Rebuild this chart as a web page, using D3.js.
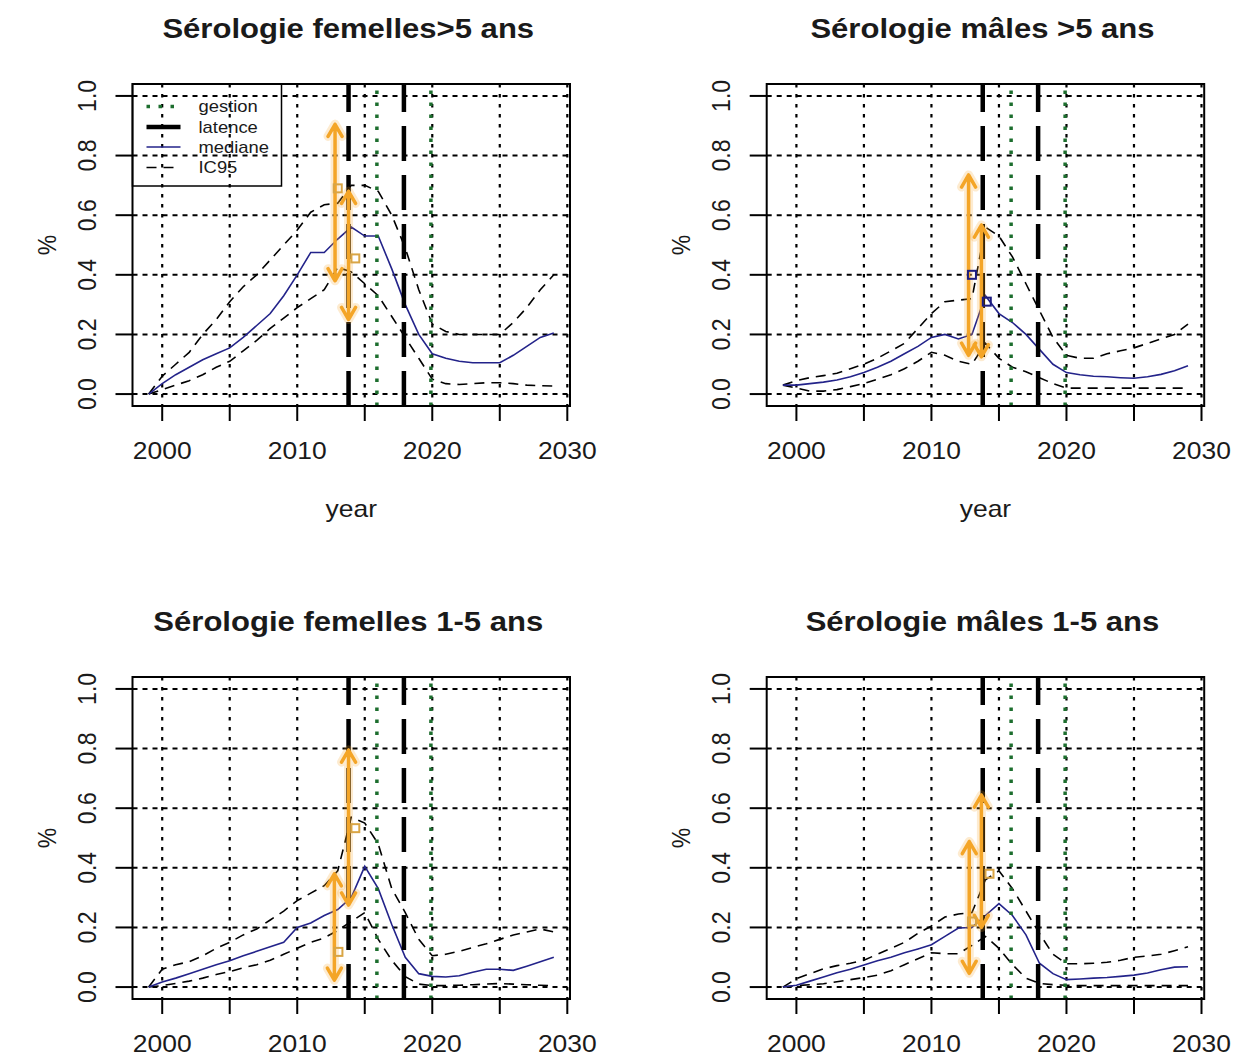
<!DOCTYPE html>
<html>
<head>
<meta charset="utf-8">
<script src="https://cdn.jsdelivr.net/npm/d3@7"></script>
<style>
  body { margin: 0; background: #fff; }
  text { font-family: "Liberation Sans", Arial, sans-serif; fill: #1a1a1a; }
</style>
</head>
<body>
<svg id="chart" width="1238" height="1057"></svg>
<script>
// ---- shared axes / markers ----
const years = d3.range(1999, 2030);           // simulated years 1999..2029
const xTicks = [2000, 2005, 2010, 2015, 2020, 2025, 2030];
const xTickLabels = [2000, 2010, 2020, 2030];
const yTicks = [0, 0.2, 0.4, 0.6, 0.8, 1.0];
const gestionYears = [2015.9, 2019.9];
const latenceYears = [2013.8, 2017.9];
const legendLabels = ["gestion", "latence", "mediane", "IC95"];

const titles = [
  "Sérologie femelles>5 ans",
  "Sérologie mâles >5 ans",
  "Sérologie femelles 1-5 ans",
  "Sérologie mâles 1-5 ans"
];

// ---- femelles > 5 ans ----
const medFemAdult = [0.00,0.035,0.065,0.09,0.115,0.135,0.155,0.19,0.23,0.27,0.33,0.40,0.475,0.475,0.52,0.56,0.53,0.53,0.42,0.30,0.20,0.135,0.12,0.11,0.105,0.105,0.105,0.13,0.16,0.19,0.205];
const upFemAdult  = [0.00,0.06,0.10,0.14,0.20,0.25,0.31,0.36,0.40,0.45,0.50,0.55,0.61,0.635,0.64,0.70,0.70,0.68,0.60,0.49,0.35,0.235,0.21,0.20,0.20,0.20,0.20,0.24,0.29,0.35,0.40];
const loFemAdult  = [0.00,0.015,0.03,0.045,0.065,0.09,0.11,0.145,0.18,0.22,0.255,0.29,0.32,0.35,0.425,0.41,0.37,0.33,0.26,0.19,0.12,0.05,0.035,0.032,0.035,0.038,0.038,0.035,0.03,0.028,0.027];
const obsYearsFemAdult = [2012.8, 2013.8];
const obsLoFemAdult    = [0.38, 0.25];
const obsHiFemAdult    = [0.905, 0.68];
const ptYearsFemAdult  = [2013.0, 2014.3];
const ptValFemAdult    = [0.69, 0.455];

// ---- mâles > 5 ans ----
const medMalAdult = [0.03,0.03,0.035,0.04,0.047,0.058,0.072,0.09,0.11,0.135,0.16,0.19,0.20,0.185,0.20,0.33,0.27,0.24,0.20,0.15,0.10,0.072,0.065,0.06,0.058,0.055,0.053,0.058,0.066,0.078,0.095];
const upMalAdult  = [0.03,0.045,0.055,0.062,0.07,0.085,0.10,0.12,0.145,0.17,0.22,0.27,0.31,0.315,0.32,0.56,0.53,0.46,0.37,0.28,0.19,0.13,0.12,0.12,0.135,0.145,0.155,0.17,0.185,0.20,0.235];
const loMalAdult  = [0.03,0.02,0.01,0.01,0.015,0.025,0.035,0.05,0.065,0.085,0.11,0.14,0.13,0.11,0.10,0.17,0.12,0.09,0.075,0.055,0.035,0.02,0.02,0.02,0.02,0.02,0.02,0.02,0.02,0.02,0.02];
const obsYearsMalAdult = [2012.75, 2013.7];
const obsLoMalAdult    = [0.13, 0.125];
const obsHiMalAdult    = [0.735, 0.567];
const ptYearsMalAdult  = [2013.0, 2014.1];
const ptValMalAdult    = [0.40, 0.31];

// ---- femelles 1-5 ans ----
const medFemYoung = [0.00,0.017,0.03,0.045,0.06,0.075,0.088,0.105,0.12,0.135,0.15,0.20,0.215,0.24,0.26,0.30,0.405,0.33,0.21,0.10,0.045,0.036,0.034,0.038,0.05,0.06,0.06,0.056,0.07,0.085,0.10];
const upFemYoung  = [0.00,0.06,0.075,0.085,0.105,0.13,0.15,0.175,0.195,0.225,0.255,0.29,0.315,0.34,0.39,0.57,0.55,0.48,0.33,0.25,0.16,0.105,0.11,0.12,0.133,0.145,0.16,0.175,0.185,0.195,0.185];
const loFemYoung  = [0.00,0.005,0.012,0.02,0.03,0.042,0.052,0.065,0.075,0.09,0.11,0.13,0.15,0.165,0.19,0.22,0.25,0.16,0.09,0.035,0.01,0.005,0.005,0.006,0.008,0.01,0.012,0.01,0.008,0.006,0.005];
const obsYearsFemYoung = [2013.8, 2012.75];
const obsLoFemYoung    = [0.275, 0.023];
const obsHiFemYoung    = [0.795, 0.38];
const ptYearsFemYoung  = [2014.3, 2013.05];
const ptValFemYoung    = [0.533, 0.118];

// ---- mâles 1-5 ans ----
const medMalYoung = [0.00,0.006,0.02,0.034,0.048,0.06,0.074,0.088,0.10,0.115,0.128,0.142,0.17,0.198,0.20,0.24,0.28,0.24,0.175,0.08,0.045,0.025,0.027,0.03,0.032,0.036,0.04,0.047,0.058,0.067,0.068];
const upMalYoung  = [0.00,0.028,0.045,0.061,0.072,0.08,0.09,0.11,0.13,0.15,0.18,0.205,0.235,0.245,0.25,0.36,0.39,0.33,0.255,0.18,0.11,0.078,0.078,0.08,0.083,0.09,0.10,0.104,0.11,0.122,0.135];
const loMalYoung  = [0.00,0.005,0.008,0.011,0.018,0.025,0.032,0.04,0.055,0.075,0.095,0.115,0.112,0.112,0.14,0.17,0.13,0.075,0.03,0.012,0.008,0.006,0.005,0.005,0.005,0.005,0.005,0.005,0.005,0.005,0.005];
const obsYearsMalYoung = [2013.7, 2012.8];
const obsLoMalYoung    = [0.20, 0.046];
const obsHiMalYoung    = [0.644, 0.488];
const ptYearsMalYoung  = [2014.3, 2013.0];
const ptValMalYoung    = [0.38, 0.22];

// ---- panel configuration ----
const panels = [
  { title: titles[0], med: medFemAdult, up: upFemAdult, lo: loFemAdult,
    obsX: obsYearsFemAdult, obsLo: obsLoFemAdult, obsHi: obsHiFemAdult,
    ptX: ptYearsFemAdult, ptY: ptValFemAdult, ptColor: "#d9a545",
    left: 132.5, top: 84, legend: true, xlab: true },
  { title: titles[1], med: medMalAdult, up: upMalAdult, lo: loMalAdult,
    obsX: obsYearsMalAdult, obsLo: obsLoMalAdult, obsHi: obsHiMalAdult,
    ptX: ptYearsMalAdult, ptY: ptValMalAdult, ptColor: "#1c1c80",
    left: 766.7, top: 84, legend: false, xlab: true },
  { title: titles[2], med: medFemYoung, up: upFemYoung, lo: loFemYoung,
    obsX: obsYearsFemYoung, obsLo: obsLoFemYoung, obsHi: obsHiFemYoung,
    ptX: ptYearsFemYoung, ptY: ptValFemYoung, ptColor: "#d9a545",
    left: 132.5, top: 677, legend: false, xlab: false },
  { title: titles[3], med: medMalYoung, up: upMalYoung, lo: loMalYoung,
    obsX: obsYearsMalYoung, obsLo: obsLoMalYoung, obsHi: obsHiMalYoung,
    ptX: ptYearsMalYoung, ptY: ptValMalYoung, ptColor: "#d9a545",
    left: 766.7, top: 677, legend: false, xlab: false }
];

const W = 437.5, H = 322;
const SX = 1.15;              // horizontal text stretch
const AXIS_FS = 23, TITLE_FS = 27, LEG_FS = 16;
const MED_COL = "#23238a", ARROW_COL = "#f4a527", GREEN = "#1d6e2e";

const svg = d3.select("#chart");

function stretchedText(g, x, y, str, opts = {}) {
  const rot = opts.rotate ? ` rotate(${opts.rotate})` : "";
  return g.append("text")
    .attr("transform", `translate(${x},${y}) scale(${SX},1)${rot}`)
    .attr("text-anchor", opts.anchor || "middle")
    .attr("dominant-baseline", opts.baseline || "auto")
    .style("font-size", (opts.size || AXIS_FS) + "px")
    .style("font-weight", opts.bold ? "bold" : "normal")
    .text(str);
}

function arrowHead(x, y, dir, len = 14, ang = Math.PI / 6) {
  // open V head pointing up (dir=-1) or down (dir=1)
  const dx = len * Math.sin(ang), dy = len * Math.cos(ang);
  return `M${x - dx},${y - dir * dy}L${x},${y}L${x + dx},${y - dir * dy}`;
}

panels.forEach(p => {
  const x = d3.scaleLinear().domain([1997.8, 2030.2]).range([p.left, p.left + W]);
  const y = d3.scaleLinear().domain([-0.04, 1.04]).range([p.top + H, p.top]);
  const g = svg.append("g");
  const bottom = p.top + H;

  // grid
  g.selectAll(".vgrid").data(xTicks).join("line")
    .attr("x1", d => x(d)).attr("x2", d => x(d))
    .attr("y1", p.top).attr("y2", bottom)
    .attr("stroke", "#000").attr("stroke-width", 2.2).attr("stroke-dasharray", "3.5,6.5");
  g.selectAll(".hgrid").data(yTicks).join("line")
    .attr("x1", p.left).attr("x2", p.left + W)
    .attr("y1", d => y(d)).attr("y2", d => y(d))
    .attr("stroke", "#000").attr("stroke-width", 2).attr("stroke-dasharray", "5,5");

  // IC95 and median
  const line = vals => d3.line().x((d, i) => x(years[i])).y(d => y(d))(vals);
  [p.up, p.lo].forEach(v => g.append("path").attr("d", line(v))
    .attr("fill", "none").attr("stroke", "#000").attr("stroke-width", 1.6)
    .attr("stroke-dasharray", "10,7"));
  g.append("path").attr("d", line(p.med))
    .attr("fill", "none").attr("stroke", MED_COL).attr("stroke-width", 1.6);

  // gestion (green dotted) and latence (black long dash)
  g.selectAll(".gest").data(gestionYears).join("line")
    .attr("x1", d => x(d)).attr("x2", d => x(d)).attr("y1", bottom).attr("y2", p.top)
    .attr("stroke", GREEN).attr("stroke-width", 3.5).attr("stroke-dasharray", "3.5,8.5");
  g.selectAll(".lat").data(latenceYears).join("line")
    .attr("x1", d => x(d)).attr("x2", d => x(d)).attr("y1", bottom).attr("y2", p.top)
    .attr("stroke", "#000").attr("stroke-width", 4.5).attr("stroke-dasharray", "35,14");

  // observed intervals as double arrows
  p.obsX.forEach((yr, i) => {
    const ax = x(yr), y0 = y(p.obsLo[i]), y1 = y(p.obsHi[i]);
    const d = `M${ax},${y0}L${ax},${y1}` + arrowHead(ax, y1, -1) + arrowHead(ax, y0, 1);
    g.append("path").attr("d", d).attr("fill", "none").attr("stroke", ARROW_COL)
      .attr("stroke-width", 9).attr("stroke-opacity", 0.22)
      .attr("stroke-linecap", "round").attr("stroke-linejoin", "round");
    g.append("path").attr("d", d).attr("fill", "none").attr("stroke", ARROW_COL)
      .attr("stroke-width", 3.5).attr("stroke-linecap", "round").attr("stroke-linejoin", "round");
  });
  // observed values
  p.ptX.forEach((yr, i) => {
    g.append("rect").attr("x", x(yr) - 4).attr("y", y(p.ptY[i]) - 4)
      .attr("width", 8).attr("height", 8).attr("fill", "none")
      .attr("stroke", p.ptColor).attr("stroke-width", 2);
  });

  // box
  g.append("rect").attr("x", p.left).attr("y", p.top).attr("width", W).attr("height", H)
    .attr("fill", "none").attr("stroke", "#000").attr("stroke-width", 2);

  // axes ticks
  g.selectAll(".xt").data(xTicks).join("line")
    .attr("x1", d => x(d)).attr("x2", d => x(d)).attr("y1", bottom).attr("y2", bottom + 15)
    .attr("stroke", "#000").attr("stroke-width", 2);
  g.selectAll(".yt").data(yTicks).join("line")
    .attr("x1", p.left - 17).attr("x2", p.left).attr("y1", d => y(d)).attr("y2", d => y(d))
    .attr("stroke", "#000").attr("stroke-width", 2);
  xTickLabels.forEach(t => stretchedText(g, x(t), bottom + 53, String(t)));
  yTicks.forEach(t => stretchedText(g, p.left - 46, y(t), d3.format(".1f")(t),
    { rotate: -90, baseline: "central" }));

  // titles and axis labels
  stretchedText(g, p.left + W / 2 - 3, p.top - 46, p.title, { size: TITLE_FS, bold: true });
  stretchedText(g, p.left - 86, p.top + H / 2, "%", { rotate: -90, baseline: "central" });
  if (p.xlab) stretchedText(g, p.left + W / 2, bottom + 111, "year");

  // legend
  if (p.legend) {
    const lx = p.left, ly = p.top, lw = 149, lh = 102;
    g.append("rect").attr("x", lx).attr("y", ly).attr("width", lw).attr("height", lh)
      .attr("fill", "none").attr("stroke", "#000").attr("stroke-width", 1.5);
    const rowY = [106.5, 127, 147, 167.5].map(v => v - 84 + ly);
    const styles = [
      { stroke: GREEN, w: 3.5, dash: "3.5,8.5" },
      { stroke: "#000", w: 4.5, dash: null },
      { stroke: MED_COL, w: 1.6, dash: null },
      { stroke: "#000", w: 1.6, dash: "10,7" }
    ];
    legendLabels.forEach((lab, i) => {
      const s = styles[i];
      const ln = g.append("line").attr("x1", lx + 14).attr("x2", lx + 48)
        .attr("y1", rowY[i]).attr("y2", rowY[i])
        .attr("stroke", s.stroke).attr("stroke-width", s.w);
      if (s.dash) ln.attr("stroke-dasharray", s.dash);
      stretchedText(g, lx + 66, rowY[i], lab, { anchor: "start", baseline: "central", size: LEG_FS });
    });
  }
});
</script>
</body>
</html>
